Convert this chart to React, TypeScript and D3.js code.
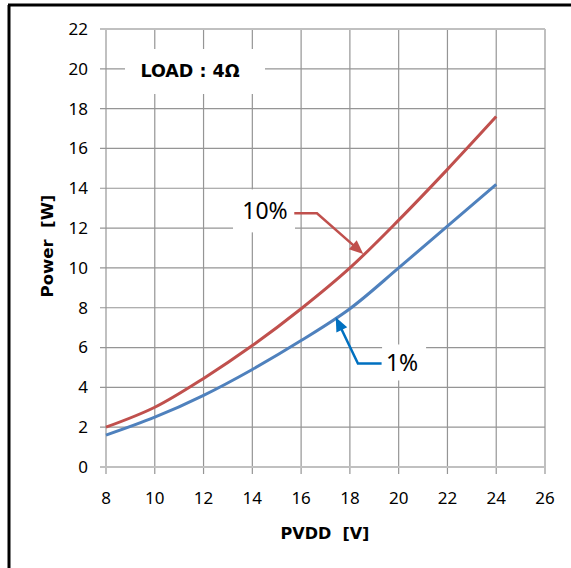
import React from "react";
import * as d3 from "d3";

const xTicks = [8, 10, 12, 14, 16, 18, 20, 22, 24, 26];
const yTicks = [0, 2, 4, 6, 8, 10, 12, 14, 16, 18, 20, 22];
const pvdd = [8, 10, 12, 14, 16, 18, 20, 22, 24];
const power10 = [2.0, 3.0, 4.45, 6.1, 7.95, 10.0, 12.4, 14.95, 17.6];
const power1 = [1.6, 2.5, 3.6, 4.9, 6.35, 7.95, 10.0, 12.1, 14.2];

const W = 571;
const H = 568;
const left = 106, right = 545, top = 29, bottom = 467;

const FONT = "'Noto Sans', 'Open Sans', sans-serif";
const BOLD = "'DejaVu Sans', sans-serif";

export default function App() {
  const x = d3.scaleLinear().domain([8, 26]).range([left, right]);
  const y = d3.scaleLinear().domain([0, 22]).range([bottom, top]);
  const line = d3
    .line<number>()
    .x((_, i) => x(pvdd[i]))
    .y((d) => y(d))
    .curve(d3.curveCatmullRom.alpha(0.5));

  const arrowHead = (x1: number, y1: number, x2: number, y2: number, len: number, half: number) => {
    const ang = Math.atan2(y2 - y1, x2 - x1);
    const bx = x2 - len * Math.cos(ang);
    const by = y2 - len * Math.sin(ang);
    const px = -Math.sin(ang) * half;
    const py = Math.cos(ang) * half;
    return `M${x2},${y2}L${bx + px},${by + py}L${bx - px},${by - py}Z`;
  };

  // annotations in data units
  const red = { text: [14.52, 12.84], start: [15.72, 12.74], bend: [16.65, 12.74], tip: [18.55, 10.7] };
  const blue = { text: [20.14, 5.25], start: [19.3, 5.2], bend: [18.33, 5.2], tip: [17.42, 7.52] };

  const rb = [x(red.bend[0]), y(red.bend[1])];
  const rt = [x(red.tip[0]), y(red.tip[1])];
  const bb = [x(blue.bend[0]), y(blue.bend[1])];
  const bt = [x(blue.tip[0]), y(blue.tip[1])];

  const shorten = (a: number[], b: number[], d: number) => {
    const L = Math.hypot(b[0] - a[0], b[1] - a[1]);
    return [b[0] - ((b[0] - a[0]) / L) * d, b[1] - ((b[1] - a[1]) / L) * d];
  };
  const rEnd = shorten(rb, rt, 10);
  const bEnd = shorten(bb, bt, 10);

  return (
    <svg
      width={W}
      height={H}
      style={{ position: "absolute", left: 0, top: 0, display: "block", background: "#fff" }}
      fontFamily={FONT}
    >
      <rect x={0} y={0} width={W} height={H} fill="#fff" />
      {/* frame */}
      <line x1={9} y1={5} x2={9} y2={H} stroke="#000" strokeWidth={3} />
      <line x1={8} y1={5} x2={W} y2={5} stroke="#000" strokeWidth={3} />

      {/* grid */}
      {xTicks.map((t) => (
        <line key={"gx" + t} x1={x(t)} x2={x(t)} y1={top} y2={bottom + 7} stroke={t === 8 ? "#c0c0c0" : "#959595"} strokeWidth={t === 8 ? 2 : 1.2} />
      ))}
      {yTicks.map((t) => (
        <line key={"gy" + t} x1={left - 6} x2={right} y1={y(t)} y2={y(t)} stroke={t === 0 || t === 22 ? "#c0c0c0" : "#959595"} strokeWidth={t === 0 || t === 22 ? 2 : 1.2} />
      ))}

      {/* tick labels */}
      {yTicks.map((t) => (
        <text key={"ty" + t} x={88} y={y(t)} dy="0.35em" textAnchor="end" fontSize={17} fill="#000">
          {t}
        </text>
      ))}
      {xTicks.map((t) => (
        <text key={"tx" + t} x={x(t)} y={504} textAnchor="middle" fontSize={17} fill="#000">
          {t}
        </text>
      ))}

      {/* axis titles */}
      <text x={325} y={539} textAnchor="middle" fontSize={16} fontWeight="bold" fontFamily={BOLD} fill="#000" style={{ whiteSpace: "pre" }}>
        {"PVDD  [V]"}
      </text>
      <text
        transform={`translate(53,${246}) rotate(-90)`}
        textAnchor="middle"
        fontSize={16.5}
        fontWeight="bold"
        fontFamily={BOLD}
        fill="#000"
        style={{ whiteSpace: "pre" }}
      >
        {"Power  [W]"}
      </text>

      {/* LOAD label */}
      <rect x={125} y={49} width={140} height={45} fill="#fff" />
      <text x={190} y={71} dy="0.35em" textAnchor="middle" fontSize={17.5} fontWeight="bold" fontFamily={BOLD} fill="#000">
        LOAD : 4Ω
      </text>

      {/* curves */}
      <path d={line(power10) || ""} fill="none" stroke="#c0504d" strokeWidth={3} />
      <path d={line(power1) || ""} fill="none" stroke="#4f81bd" strokeWidth={3} />

      {/* 10% annotation */}
      <rect x={x(red.text[0]) - 32} y={y(red.text[1]) - 22} width={62} height={43} fill="#fff" />
      <text x={x(red.text[0])} y={y(red.text[1])} dy="0.35em" textAnchor="middle" fontSize={23} fill="#000">
        10%
      </text>
      <path
        d={`M${x(red.start[0])},${y(red.start[1])}L${rb[0]},${rb[1]}L${rEnd[0]},${rEnd[1]}`}
        fill="none"
        stroke="#c0504d"
        strokeWidth={2.5}
      />
      <path d={arrowHead(rb[0], rb[1], rt[0], rt[1], 14, 6)} fill="#c0504d" />

      {/* 1% annotation */}
      <rect x={x(blue.text[0]) - 20} y={y(blue.text[1]) - 18} width={44} height={36} fill="#fff" />
      <text x={x(blue.text[0])} y={y(blue.text[1])} dy="0.35em" textAnchor="middle" fontSize={23} fill="#000">
        1%
      </text>
      <path
        d={`M${x(blue.start[0])},${y(blue.start[1])}L${bb[0]},${bb[1]}L${bEnd[0]},${bEnd[1]}`}
        fill="none"
        stroke="#0070c0"
        strokeWidth={2.5}
      />
      <path d={arrowHead(bb[0], bb[1], bt[0], bt[1], 14, 6)} fill="#0070c0" />
    </svg>
  );
}
